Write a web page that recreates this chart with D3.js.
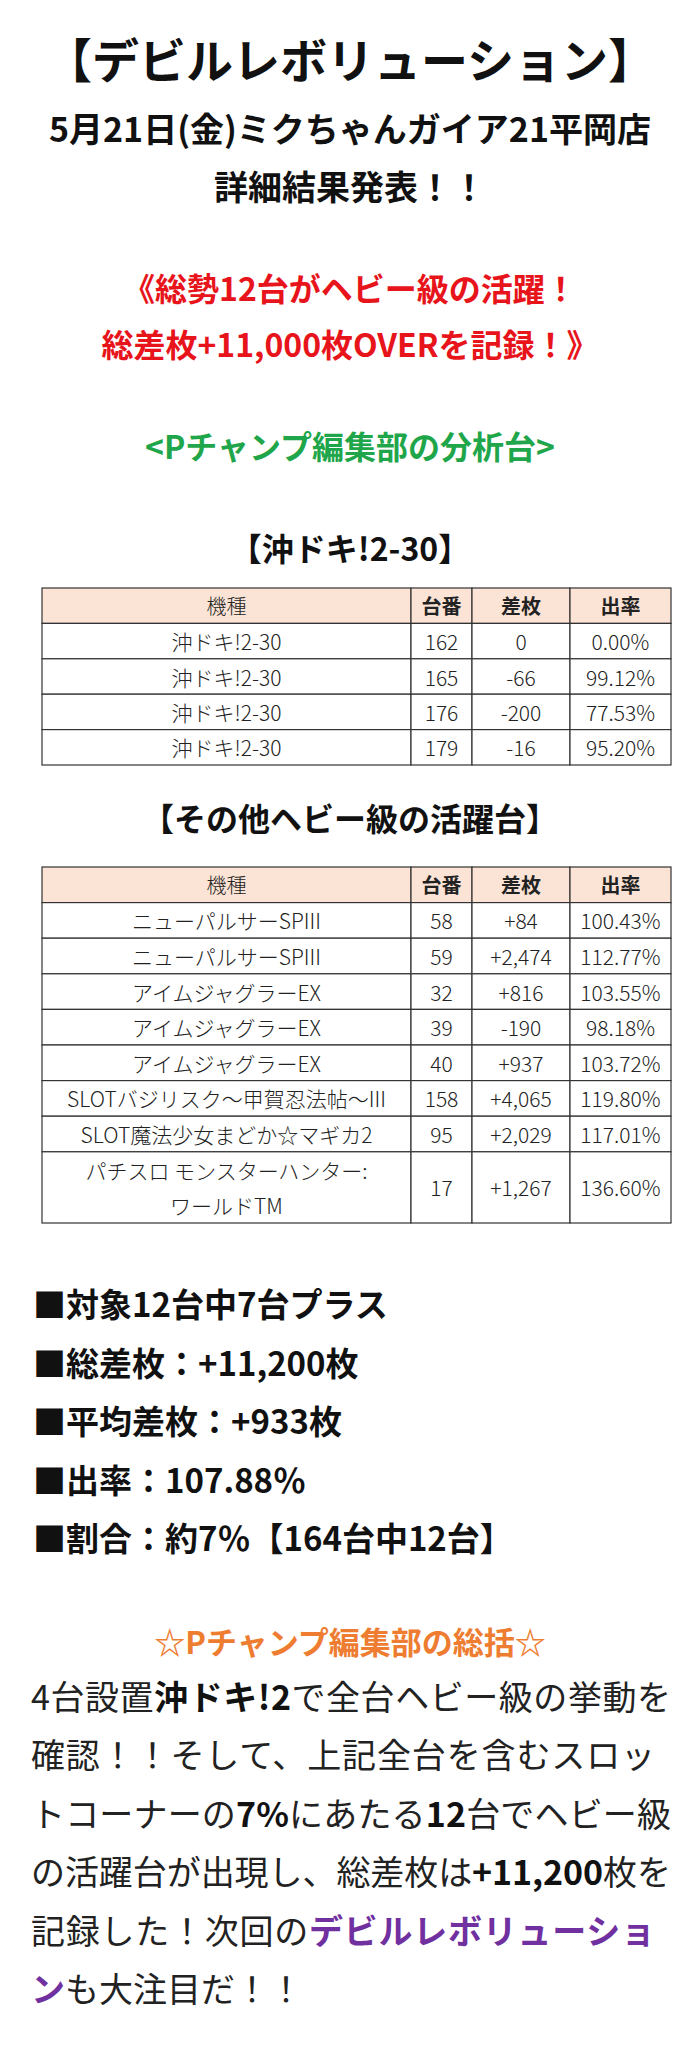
<!DOCTYPE html>
<html>
<head>
<meta charset="utf-8">
<script src="https://cdn.jsdelivr.net/npm/d3@7"></script>
<style>
  body { margin: 0; background: #fff; }
  svg { display: block; }
  text { font-family: "Noto Sans CJK JP", "Noto Sans", sans-serif; }
</style>
</head>
<body>
<svg id="chart"></svg>
<script>
const width = 700;
const height = 2046;

// headline
const titleLines = ["【デビルレボリューション】", "5月21日(金)ミクちゃんガイア21平岡店", "詳細結果発表！！"];
const redLines = ["《総勢12台がヘビー級の活躍！", "総差枚+11,000枚OVERを記録！》"];
const greenLine = "<Pチャンプ編集部の分析台>";

// table columns
const columns = ["機種", "台番", "差枚", "出率"];

// table 1
const t1Title = "【沖ドキ!2-30】";
const t1Names = ["沖ドキ!2-30", "沖ドキ!2-30", "沖ドキ!2-30", "沖ドキ!2-30"];
const t1Nums = ["162", "165", "176", "179"];
const t1Diffs = ["0", "-66", "-200", "-16"];
const t1Rates = ["0.00%", "99.12%", "77.53%", "95.20%"];

// table 2
const t2Title = "【その他ヘビー級の活躍台】";
const t2Names = ["ニューパルサーSPIII", "ニューパルサーSPIII", "アイムジャグラーEX", "アイムジャグラーEX",
  "アイムジャグラーEX", "SLOTバジリスク～甲賀忍法帖～III", "SLOT魔法少女まどか☆マギカ2",
  "パチスロ モンスターハンター:\nワールドTM"];
const t2Nums = ["58", "59", "32", "39", "40", "158", "95", "17"];
const t2Diffs = ["+84", "+2,474", "+816", "-190", "+937", "+4,065", "+2,029", "+1,267"];
const t2Rates = ["100.43%", "112.77%", "103.55%", "98.18%", "103.72%", "119.80%", "117.01%", "136.60%"];

// summary
const statLines = ["■対象12台中7台プラス", "■総差枚：+11,200枚", "■平均差枚：+933枚", "■出率：107.88％", "■割合：約7％【164台中12台】"];
const summaryTitle = "☆Pチャンプ編集部の総括☆";
const summaryLines = [
  [["4台設置", 0], ["沖ドキ!2", 1], ["で全台ヘビー級の挙動を", 0]],
  [["確認！！そして、上記全台を含むスロッ", 0]],
  [["トコーナーの", 0], ["7%", 3], ["にあたる", 0], ["12", 3], ["台でヘビー級", 0]],
  [["の活躍台が出現し、総差枚は", 0], ["+11,200", 3], ["枚を", 0]],
  [["記録した！次回の", 0], ["デビルレボリューショ", 2]],
  [["ン", 2], ["も大注目だ！！", 0]]
];
const summaryFit = [true, true, true, true, true, false];

const svg = d3.select("#chart").attr("width", width).attr("height", height);

function centerText(str, y, size, color, weight) {
  svg.append("text")
    .attr("x", width / 2).attr("y", y)
    .attr("text-anchor", "middle").attr("dominant-baseline", "central")
    .attr("font-size", size).attr("font-weight", weight || 700)
    .attr("fill", color || "#111")
    .text(str);
}

centerText(titleLines[0], 57, 47);
centerText(titleLines[1], 127, 34);
centerText(titleLines[2], 185, 34);
centerText(redLines[0], 287, 32, "#e8141b");
centerText(redLines[1], 343, 32, "#e8141b");
centerText(greenLine, 445, 32, "#1fa64a");

// column edges
const colEdges = [42, 411, 472, 570, 671];
const x = d3.scaleOrdinal().domain(columns).range(colEdges.slice(0, 4));
const colW = c => colEdges[columns.indexOf(c) + 1] - x(c);

function drawTable(title, titleY, top, names, nums, diffs, rates, rowH) {
  centerText(title, titleY, 32);
  const units = names.map(n => n.includes("\n") ? 2 : 1);
  const starts = [0].concat(Array.from(d3.cumsum(units)));
  const total = starts[starts.length - 1] + 1;
  const y = d3.scaleLinear().domain([0, total]).range([top, top + rowH * total]);
  const g = svg.append("g");

  // header
  columns.forEach((c, i) => {
    g.append("rect").attr("x", x(c)).attr("y", y(0)).attr("width", colW(c)).attr("height", y(1) - y(0))
      .attr("fill", "#fbe4d5").attr("stroke", "#333").attr("stroke-width", 1.2);
    g.append("text").attr("x", x(c) + colW(c) / 2).attr("y", (y(0) + y(1)) / 2)
      .attr("text-anchor", "middle").attr("dominant-baseline", "central")
      .attr("font-size", 20).attr("font-weight", i === 0 ? 300 : 700).attr("fill", "#222").text(c);
  });

  const rows = names.map((n, i) => ({ cells: [n, nums[i], diffs[i], rates[i]], s: starts[i] + 1, u: units[i] }));
  rows.forEach(r => {
    const y0 = y(r.s), y1 = y(r.s + r.u);
    columns.forEach((c, i) => {
      g.append("rect").attr("x", x(c)).attr("y", y0).attr("width", colW(c)).attr("height", y1 - y0)
        .attr("fill", "#fff").attr("stroke", "#333").attr("stroke-width", 1.2);
      const parts = r.cells[i].split("\n");
      parts.forEach((p, k) => {
        g.append("text").attr("x", x(c) + colW(c) / 2)
          .attr("y", (y0 + y1) / 2 + (k - (parts.length - 1) / 2) * 35)
          .attr("text-anchor", "middle").attr("dominant-baseline", "central")
          .attr("font-size", 21).attr("font-weight", 300).attr("fill", "#222").text(p);
      });
    });
  });
}

drawTable(t1Title, 547, 588, t1Names, t1Nums, t1Diffs, t1Rates, 35.4);
drawTable(t2Title, 817, 867, t2Names, t2Nums, t2Diffs, t2Rates, 35.6);

// stats
const statY = d3.scalePoint().domain(statLines).range([1303, 1537]);
statLines.forEach(s => {
  svg.append("text").attr("x", 33).attr("y", statY(s)).attr("dominant-baseline", "central")
    .attr("font-size", 33).attr("font-weight", 700).attr("fill", "#111").text(s);
});

// summary
centerText(summaryTitle, 1640, 31, "#ee7d31");
const colors = ["#222", "#111", "#7030a0", "#111"];
const weights = [400, 700, 700, 700];
const lineY = d3.scalePoint().domain(d3.range(summaryLines.length)).range([1695, 1987]);
summaryLines.forEach((line, i) => {
  const t = svg.append("text").attr("x", 31).attr("y", lineY(i)).attr("dominant-baseline", "central")
    .attr("font-size", 34);
  if (summaryFit[i]) t.attr("textLength", i === 1 || i === 4 ? 624 : 640).attr("lengthAdjust", "spacing");
  line.forEach(([s, k]) => {
    t.append("tspan").attr("fill", colors[k]).attr("font-weight", weights[k]).text(s);
  });
});
</script>
</body>
</html>
